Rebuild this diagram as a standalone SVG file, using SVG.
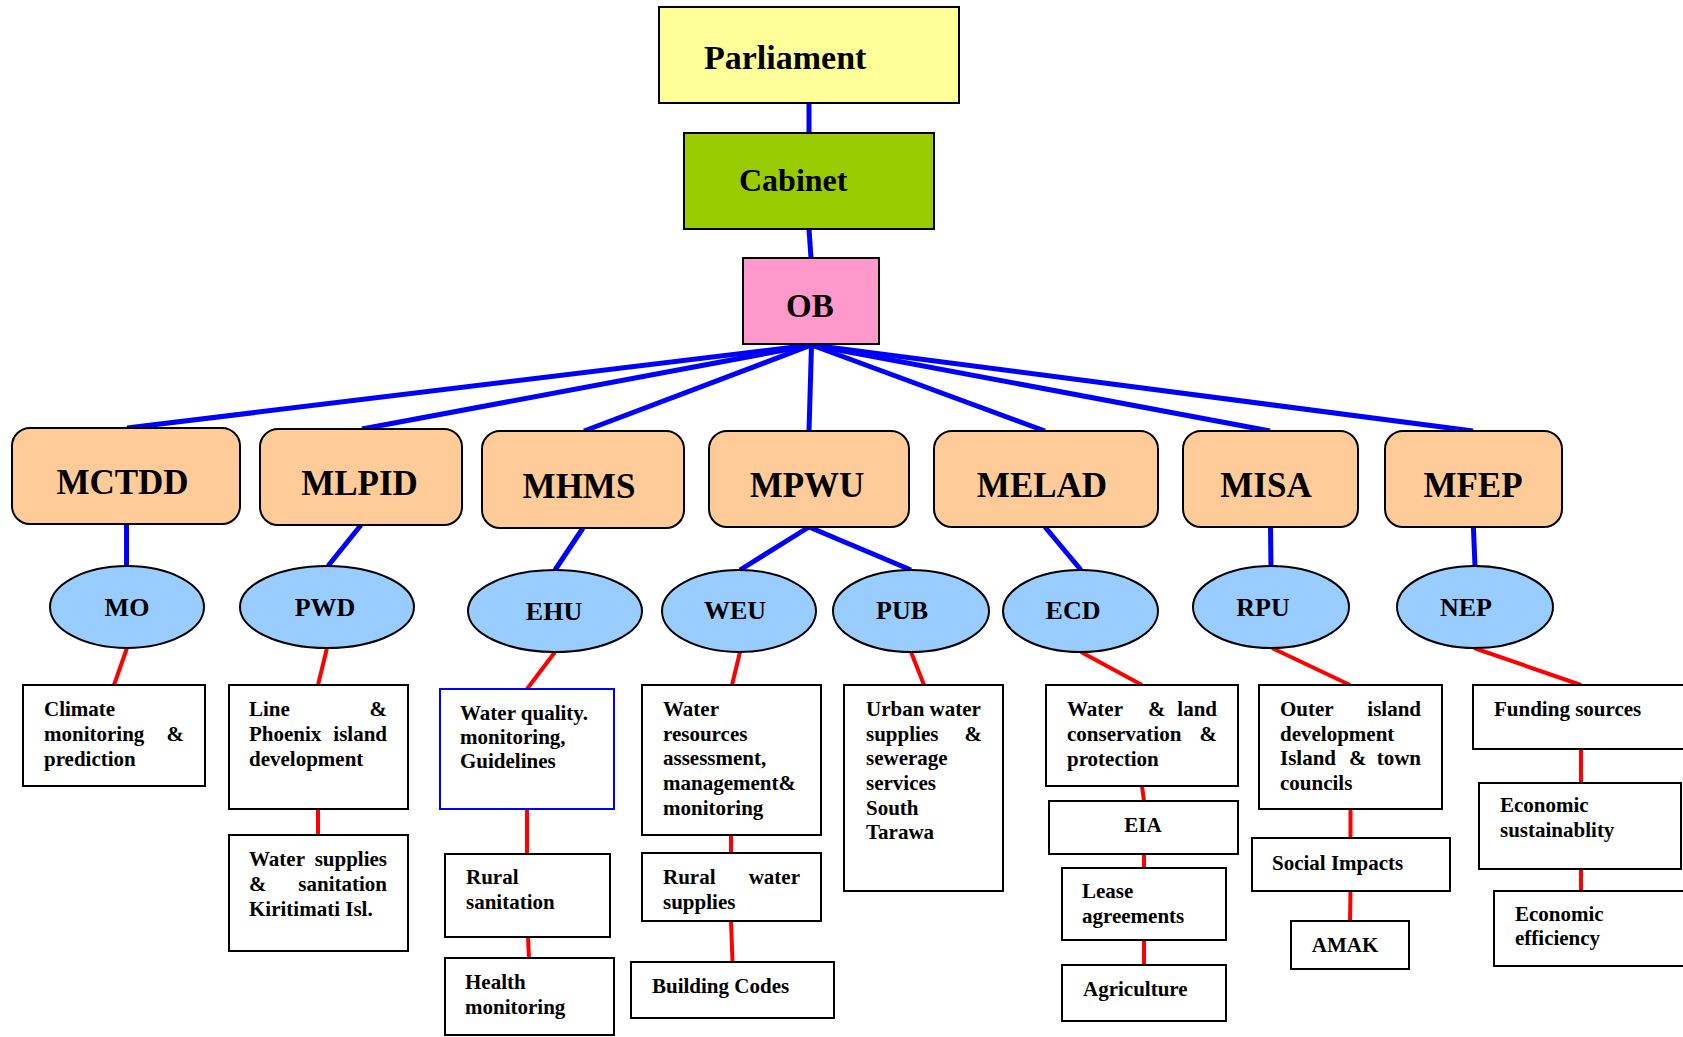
<svg xmlns="http://www.w3.org/2000/svg" width="1683" height="1037" viewBox="0 0 1683 1037">
<style>
text{font-family:"Liberation Serif","Times New Roman",serif;font-weight:bold;fill:#000}
.top{font-size:34px}
.min{font-size:35px;text-anchor:middle}
.ell{font-size:26px;text-anchor:middle}
.t{font-size:21px}
.e{text-anchor:end}
.m{text-anchor:middle}
.box{fill:#fff;stroke:#000;stroke-width:2}
.minbox{fill:#FFCC99;stroke:#000;stroke-width:2}
.oval{fill:#99CCFF;stroke:#000;stroke-width:2}
.blue line{stroke:#0000FF;stroke-width:5}
.red line{stroke:#FF0000;stroke-width:4}
</style>
<rect width="1683" height="1037" fill="#fff"/>
<g id="connectors">
<g class="blue">
<line x1="809" y1="104" x2="809" y2="133"/>
<line x1="809" y1="229" x2="811" y2="258"/>
<line x1="811.5" y1="345" x2="127" y2="428"/>
<line x1="811.5" y1="345" x2="362" y2="429"/>
<line x1="811.5" y1="345" x2="584" y2="431"/>
<line x1="811.5" y1="345" x2="809" y2="431"/>
<line x1="811.5" y1="345" x2="1045" y2="431"/>
<line x1="811.5" y1="345" x2="1270" y2="431"/>
<line x1="811.5" y1="345" x2="1473" y2="431"/>
<line x1="126.5" y1="524" x2="126.5" y2="566"/>
<line x1="361" y1="525" x2="328" y2="566"/>
<line x1="583" y1="528" x2="555" y2="570"/>
<line x1="809" y1="527" x2="740" y2="570"/>
<line x1="809" y1="527" x2="911" y2="570"/>
<line x1="1045" y1="527" x2="1081" y2="570"/>
<line x1="1270.5" y1="527" x2="1271" y2="566"/>
<line x1="1473.4" y1="527" x2="1475" y2="566"/>
</g>
<g class="red">
<line x1="127" y1="648" x2="114" y2="685"/>
<line x1="327" y1="648" x2="318" y2="685"/>
<line x1="318" y1="809" x2="318" y2="835"/>
<line x1="555" y1="652" x2="527" y2="689"/>
<line x1="527" y1="809" x2="527" y2="854"/>
<line x1="528" y1="937" x2="529" y2="958"/>
<line x1="740" y1="652" x2="732" y2="685"/>
<line x1="731" y1="835" x2="731" y2="853"/>
<line x1="731" y1="921" x2="732.5" y2="962"/>
<line x1="911" y1="652" x2="924" y2="685"/>
<line x1="1081" y1="652" x2="1142" y2="685"/>
<line x1="1142" y1="786" x2="1144" y2="801"/>
<line x1="1144" y1="854" x2="1144" y2="868"/>
<line x1="1144" y1="940" x2="1144" y2="965"/>
<line x1="1272" y1="648" x2="1350" y2="685"/>
<line x1="1350.5" y1="809" x2="1350.5" y2="838"/>
<line x1="1350.5" y1="891" x2="1350" y2="921"/>
<line x1="1474" y1="648" x2="1581" y2="685"/>
<line x1="1581" y1="749" x2="1581" y2="783"/>
<line x1="1581" y1="869" x2="1581" y2="891"/>
</g>
</g>
<g id="parliament"><rect x="659" y="7" width="300" height="96" fill="#FFFF99" stroke="#000" stroke-width="2"/><text class="top" x="704" y="69">Parliament</text></g>
<g id="cabinet"><rect x="684" y="133" width="250" height="96" fill="#99CC00" stroke="#000" stroke-width="2"/><text class="top" x="739" y="191" style="font-size:32px">Cabinet</text></g>
<g id="ob"><rect x="743" y="258" width="136" height="86" fill="#FF99CC" stroke="#000" stroke-width="2"/><text class="top" x="786" y="317" style="font-size:33px">OB</text></g>
<g id="mctdd"><rect class="minbox" x="12" y="428" width="228" height="96" rx="18"/><text class="min" x="122.5" y="494">MCTDD</text></g>
<g id="mlpid"><rect class="minbox" x="260" y="429" width="202" height="96" rx="18"/><text class="min" x="359.5" y="495">MLPID</text></g>
<g id="mhms"><rect class="minbox" x="482" y="431" width="202" height="97" rx="18"/><text class="min" x="579" y="498">MHMS</text></g>
<g id="mpwu"><rect class="minbox" x="709" y="431" width="200" height="96" rx="18"/><text class="min" x="807" y="497">MPWU</text></g>
<g id="melad"><rect class="minbox" x="934" y="431" width="224" height="96" rx="18"/><text class="min" x="1042" y="497">MELAD</text></g>
<g id="misa"><rect class="minbox" x="1183" y="431" width="175" height="96" rx="18"/><text class="min" x="1266" y="497">MISA</text></g>
<g id="mfep"><rect class="minbox" x="1385" y="431" width="177" height="96" rx="18"/><text class="min" x="1473" y="497">MFEP</text></g>
<g id="mo"><ellipse class="oval" cx="127" cy="607" rx="77" ry="41"/><text class="ell" x="127" y="616">MO</text></g>
<g id="pwd"><ellipse class="oval" cx="327" cy="607" rx="87" ry="41"/><text class="ell" x="325" y="616">PWD</text></g>
<g id="ehu"><ellipse class="oval" cx="555" cy="611" rx="87" ry="41"/><text class="ell" x="554" y="620">EHU</text></g>
<g id="weu"><ellipse class="oval" cx="739" cy="611" rx="77" ry="41"/><text class="ell" x="735" y="619">WEU</text></g>
<g id="pub"><ellipse class="oval" cx="911" cy="611" rx="78" ry="41"/><text class="ell" x="902" y="619">PUB</text></g>
<g id="ecd"><ellipse class="oval" cx="1080.5" cy="611" rx="77.5" ry="41"/><text class="ell" x="1073" y="619">ECD</text></g>
<g id="rpu"><ellipse class="oval" cx="1271" cy="607" rx="78" ry="41"/><text class="ell" x="1263" y="616">RPU</text></g>
<g id="nep"><ellipse class="oval" cx="1475" cy="607" rx="78" ry="41"/><text class="ell" x="1466" y="616">NEP</text></g>
<g id="climate"><rect class="box" x="23" y="685" width="182" height="101"/>
<text class="t" x="44" y="716">Climate</text><text class="t" x="44" y="741">monitoring</text><text class="t e" x="184" y="741">&amp;</text><text class="t" x="44" y="766">prediction</text></g>
<g id="line-phoenix"><rect class="box" x="229" y="685" width="179" height="124"/>
<text class="t" x="249" y="716">Line</text><text class="t e" x="387" y="716">&amp;</text><text class="t" x="249" y="741">Phoenix</text><text class="t e" x="387" y="741">island</text><text class="t" x="249" y="766">development</text></g>
<g id="water-supplies"><rect class="box" x="229" y="835" width="179" height="116"/>
<text class="t" x="249" y="866">Water</text><text class="t e" x="387" y="866">supplies</text><text class="t" x="249" y="891">&amp;</text><text class="t e" x="387" y="891">sanitation</text><text class="t" x="249" y="916">Kiritimati Isl.</text></g>
<g id="water-quality"><rect x="440" y="689" width="174" height="120" fill="#fff" stroke="#0000FF" stroke-width="2"/>
<text class="t" x="460" y="720">Water quality.</text><text class="t" x="460" y="744">monitoring,</text><text class="t" x="460" y="768">Guidelines</text></g>
<g id="rural-sanitation"><rect class="box" x="445" y="854" width="165" height="83"/>
<text class="t" x="466" y="884">Rural</text><text class="t" x="466" y="909">sanitation</text></g>
<g id="health"><rect class="box" x="445" y="958" width="169" height="77"/>
<text class="t" x="465" y="989">Health</text><text class="t" x="465" y="1014">monitoring</text></g>
<g id="water-resources"><rect class="box" x="642" y="685" width="179" height="150"/>
<text class="t" x="663" y="716">Water</text><text class="t" x="663" y="741">resources</text><text class="t" x="663" y="765">assessment,</text><text class="t" x="663" y="790">management&amp;</text><text class="t" x="663" y="815">monitoring</text></g>
<g id="rural-water"><rect class="box" x="642" y="853" width="179" height="68"/>
<text class="t" x="663" y="884">Rural</text><text class="t e" x="800" y="884">water</text><text class="t" x="663" y="909">supplies</text></g>
<g id="building-codes"><rect class="box" x="631" y="962" width="203" height="56"/>
<text class="t" x="652" y="993">Building Codes</text></g>
<g id="urban"><rect class="box" x="844" y="685" width="159" height="206"/>
<text class="t" x="866" y="716">Urban water</text><text class="t" x="866" y="741">supplies</text><text class="t e" x="982" y="741">&amp;</text><text class="t" x="866" y="765">sewerage</text><text class="t" x="866" y="790">services</text><text class="t" x="866" y="815">South</text><text class="t" x="866" y="839">Tarawa</text></g>
<g id="water-land"><rect class="box" x="1046" y="685" width="192" height="101"/>
<text class="t" x="1067" y="716">Water</text><text class="t" x="1148" y="716">&amp;</text><text class="t e" x="1217" y="716">land</text><text class="t" x="1067" y="741">conservation</text><text class="t e" x="1217" y="741">&amp;</text><text class="t" x="1067" y="766">protection</text></g>
<g id="eia"><rect class="box" x="1049" y="801" width="189" height="53"/>
<text class="t m" x="1143" y="832">EIA</text></g>
<g id="lease"><rect class="box" x="1062" y="868" width="164" height="72"/>
<text class="t" x="1082" y="898">Lease</text><text class="t" x="1082" y="923">agreements</text></g>
<g id="agriculture"><rect class="box" x="1062" y="965" width="164" height="56"/>
<text class="t" x="1083" y="996">Agriculture</text></g>
<g id="outer-island"><rect class="box" x="1259" y="685" width="183" height="124"/>
<text class="t" x="1280" y="716">Outer</text><text class="t e" x="1421" y="716">island</text><text class="t" x="1280" y="741">development</text><text class="t" x="1280" y="765">Island</text><text class="t" x="1349" y="765">&amp;</text><text class="t e" x="1421" y="765">town</text><text class="t" x="1280" y="790">councils</text></g>
<g id="social-impacts"><rect class="box" x="1252" y="838" width="198" height="53"/>
<text class="t" x="1272" y="870">Social Impacts</text></g>
<g id="amak"><rect class="box" x="1291" y="921" width="118" height="48"/>
<text class="t m" x="1345" y="952">AMAK</text></g>
<g id="funding"><rect class="box" x="1473" y="685" width="222" height="64"/>
<text class="t" x="1494" y="716">Funding sources</text></g>
<g id="econ-sustainability"><rect class="box" x="1479" y="783" width="202" height="86"/>
<text class="t" x="1500" y="812">Economic</text><text class="t" x="1500" y="837">sustainablity</text></g>
<g id="econ-efficiency"><rect class="box" x="1494" y="891" width="202" height="75"/>
<text class="t" x="1515" y="921">Economic</text><text class="t" x="1515" y="945">efficiency</text></g>
</svg>
